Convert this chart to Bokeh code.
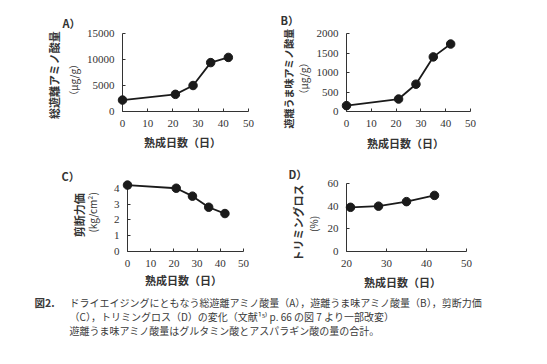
import math
from bokeh.plotting import figure
from bokeh.models import Range1d, FixedTicker
from bokeh.layouts import column, row
from bokeh.embed import file_html
from bokeh.resources import INLINE
from bokeh.core.properties import value

# ---------------- data ----------------
days_a = [0, 21, 28, 35, 42]
total_aa = [2200, 3300, 5000, 9400, 10400]
days_b = [0, 21, 28, 35, 42]
umami_aa = [150, 320, 700, 1400, 1730]
days_c = [0, 21, 28, 35, 42]
shear_force = [4.2, 4.0, 3.5, 2.8, 2.4]
days_d = [21, 28, 35, 42]
trim_loss = [39, 40, 44, 49.5]

x_ticks_abc = [0, 10, 20, 30, 40, 50]
x_ticks_d = [20, 30, 40, 50]
y_ticks_a = [0, 5000, 10000, 15000]
y_ticks_b = [0, 500, 1000, 1500, 2000]
y_ticks_c = [0, 1, 2, 3, 4]
y_ticks_d = [0, 20, 40, 60]

panel_letters = ["A）", "B）", "C）", "D）"]
y_titles = ["総遊離アミノ酸量", "遊離うま味アミノ酸量", "剪断力価", "トリミングロス"]
y_units = ["（μg/g）", "（μg/g）", "(kg/cm²)", "(%)"]
x_title = "熟成日数（日）"
caption_head = "図2."
caption_lines = [
    "ドライエイジングにともなう総遊離アミノ酸量（A），遊離うま味アミノ酸量（B），剪断力価",
    "（C），トリミングロス（D）の変化（文献¹⁵⁾ p. 66 の図 7 より一部改変）",
    "遊離うま味アミノ酸量はグルタミン酸とアスパラギン酸の量の合計。",
]

# ---------------- styling ----------------
INK = "#1a1a1a"
AX = "#333333"
TXT = "#333333"
JP = "Noto Sans CJK JP"
SERIF = "Liberation Serif"


def make_panel(geom, xs, ys, xr, yr, xt, yt, letter, letter_pos,
               ytitle, ytitle_pos, yunit, yunit_pos, xtitle_pos,
               title_size="11px", unit_size="10px"):
    ox, oy, W, H, L, R, T, B = geom
    p = figure(width=W, height=H, x_range=Range1d(*xr), y_range=Range1d(*yr),
               output_backend="svg", toolbar_location=None,
               min_border_left=L, min_border_right=R,
               min_border_top=T, min_border_bottom=B)
    p.outline_line_color = None
    p.xgrid.visible = False
    p.ygrid.visible = False
    p.background_fill_color = "white"
    p.border_fill_color = "white"

    fx0, fx1 = ox + L, ox + W - R
    fy0, fy1 = oy + T, oy + H - B

    def to_data(px, py):
        dx = xr[0] + (px - fx0) / (fx1 - fx0) * (xr[1] - xr[0])
        dy = yr[0] + (fy1 - py) / (fy1 - fy0) * (yr[1] - yr[0])
        return dx, dy

    for ax in (p.xaxis[0], p.yaxis[0]):
        ax.axis_line_color = AX
        ax.axis_line_width = 1
        ax.major_tick_line_color = AX
        ax.major_tick_in = 3
        ax.major_tick_out = 0
        ax.minor_tick_line_color = None
        ax.major_label_text_font = SERIF
        ax.major_label_text_font_size = "11px"
        ax.major_label_text_color = TXT
    p.xaxis.ticker = FixedTicker(ticks=xt)
    p.yaxis.ticker = FixedTicker(ticks=yt)
    p.xaxis.major_label_standoff = 8
    p.yaxis.major_label_standoff = 8

    p.line(xs, ys, line_width=1.8, line_color=INK, level="overlay")
    p.scatter(xs, ys, size=8.5, fill_color=INK, line_color=INK, level="overlay")

    def put(pos, txt, size, bold, angle=0.0, align="center"):
        dx, dy = to_data(*pos)
        p.text(x=[dx], y=[dy], text=[txt], text_font=value(JP),
               text_font_style="bold" if bold else "normal",
               text_font_size=size, text_color=TXT, angle=angle,
               text_align=align, text_baseline="middle", level="overlay")

    put(letter_pos, letter, "11px", True, align="left")
    put(ytitle_pos, ytitle, title_size, True, angle=math.pi / 2)
    put(yunit_pos, yunit, unit_size, False, angle=math.pi / 2)
    put(xtitle_pos, x_title, "11px", True)
    return p


pA = make_panel((0, 0, 270, 150, 122, 22, 33, 38), days_a, total_aa, (0, 50), (0, 15000),
                x_ticks_abc, y_ticks_a, panel_letters[0], (62, 22),
                y_titles[0], (53, 75), y_units[0], (73, 80), (182, 143))
pB = make_panel((270, 0, 277, 150, 76, 77, 33, 39), days_b, umami_aa, (0, 50), (0, 2000),
                x_ticks_abc, y_ticks_b, panel_letters[1], (280, 19),
                y_titles[1], (288, 78), y_units[1], (303, 78), (405, 142),
                title_size="10px")
pC = make_panel((0, 150, 270, 142, 127, 27, 28, 41), days_c, shear_force, (0, 50), (0, 4.3),
                x_ticks_abc, y_ticks_c, panel_letters[2], (61, 170),
                y_titles[2], (78, 212), y_units[2], (92, 209), (183, 282))
pD = make_panel((270, 150, 277, 142, 76, 81, 33, 40), days_d, trim_loss, (20, 50), (0, 60),
                x_ticks_d, y_ticks_d, panel_letters[3], (288, 173),
                y_titles[3], (297, 223), y_units[3], (313, 224), (402, 283))

# ---------------- caption ----------------
CAP_Y0 = 292
cap = figure(width=547, height=70, x_range=Range1d(0, 547), y_range=Range1d(70, 0),
             output_backend="svg", toolbar_location=None, min_border=0)
cap.axis.visible = False
cap.grid.visible = False
cap.outline_line_color = None
cap.background_fill_color = "white"
cap.border_fill_color = "white"
cap.text(x=[69] * 3, y=[302 - CAP_Y0, 316 - CAP_Y0, 330 - CAP_Y0], text=caption_lines,
         text_font=value(JP), text_font_size="10px", text_color="#3a3a3a",
         text_align="left", text_baseline="middle")
cap.text(x=[34], y=[302 - CAP_Y0], text=[caption_head], text_font=value(JP),
         text_font_style="bold", text_font_size="10.5px", text_color="#3a3a3a",
         text_align="left", text_baseline="middle")

layout = column(row(pA, pB, spacing=0), row(pC, pD, spacing=0), cap, spacing=0)

open("out.html", "w").write(file_html(layout, INLINE))
